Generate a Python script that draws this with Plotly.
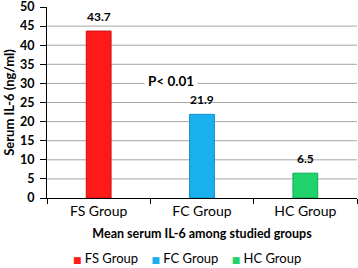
import plotly.graph_objects as go

groups = ["FS Group", "FC Group", "HC Group"]
values = [43.7, 21.9, 6.5]
colors = ["#FF1A1A", "#1AB0EE", "#1FD36A"]
edge_colors = ["#D01010", "#1090C8", "#15A855"]
y_ticks = [0, 5, 10, 15, 20, 25, 30, 35, 40, 45, 50]
p_text = "P< 0.01"

FONT = "Lato, 'DejaVu Sans', sans-serif"

fig = go.Figure()
for g, v, c, ec in zip(groups, values, colors, edge_colors):
    fig.add_trace(go.Bar(
        x=[g], y=[v], name=g, width=0.24,
        marker=dict(color=c, line=dict(color=ec, width=1)),
    ))
    fig.add_annotation(x=g, y=v, text="<b>%s</b>" % v, showarrow=False,
                       yshift=15, font=dict(size=12, color="#000", family=FONT))

# gridlines (no line at the top limit)
for t in y_ticks[1:-1]:
    fig.add_shape(type="line", xref="paper", yref="y", x0=0, x1=1, y0=t, y1=t,
                  line=dict(color="#A6A6A6", width=1), layer="below")

fig.add_annotation(x=0.70, y=30.5, xref="x", yref="y", text="<b>%s</b>" % p_text,
                   showarrow=False, xanchor="center",
                   font=dict(size=13.5, color="#000", family=FONT),
                   bgcolor="white", borderpad=3)

# legend row
legend_text = "&nbsp;&nbsp;&nbsp;&nbsp;".join(
    "<span style='color:%s;font-size:9px'>■</span> %s" % (c, g) for g, c in zip(groups, colors)
)
fig.add_annotation(x=0.453, y=-0.315, xref="paper", yref="paper", text=legend_text,
                   showarrow=False, xanchor="center", yanchor="middle",
                   font=dict(size=13, color="#000", family=FONT))

fig.update_layout(
    width=358, height=268,
    margin=dict(l=47, r=1, t=7, b=70, autoexpand=False),
    barmode="overlay",
    paper_bgcolor="white", plot_bgcolor="white",
    font=dict(family=FONT, size=12, color="#000"),
    showlegend=False,
    xaxis=dict(
        type="category", showgrid=False, showline=True, linecolor="#000", linewidth=1,
        ticks="outside", ticklen=5, tickcolor="#000",
        tickson="boundaries", automargin=False,
        tickfont=dict(size=14, family=FONT),
        title=dict(text="<b>Mean serum IL-6 among studied groups</b>", standoff=11,
                   font=dict(size=12.5, family=FONT)),
    ),
    yaxis=dict(
        range=[0, 50], tickvals=y_ticks,
        ticktext=["<b>%d</b>" % t for t in y_ticks],
        showgrid=False, automargin=False,
        showline=True, linecolor="#000", linewidth=1,
        ticks="outside", ticklen=6, tickcolor="#000",
        ticklabelstandoff=3, ticklabeloverflow="allow",
        tickfont=dict(size=12.5, family=FONT),
        zeroline=False,
        title=dict(text="<b>Serum IL-6 (ng/ml)</b>", standoff=2,
                   font=dict(size=13, family=FONT)),
    ),
)

fig.write_html("out.html", config={"displayModeBar": False},
               post_script="document.body.style.margin='0';document.body.style.overflow='hidden';")
